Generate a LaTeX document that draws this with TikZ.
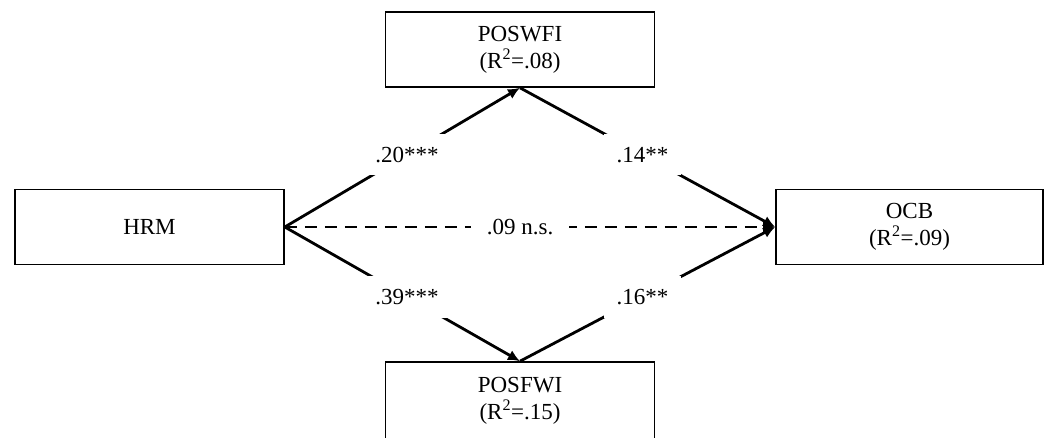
\documentclass[tikz,border=0pt]{standalone}
\usepackage{fontspec}
\setmainfont{Liberation Serif}
\usetikzlibrary{arrows.meta}

\tikzset{
  varbox/.style={draw, rectangle, line width=1.6pt, minimum width=269pt, minimum height=75pt,
                 align=center, font=\fontsize{23}{27}\selectfont},
  effect/.style={line width=2.8pt, -{Latex[length=12pt,width=11pt]}},
  coef/.style={fill=white, inner xsep=13pt, inner ysep=13pt, font=\fontsize{23}{27}\selectfont}
}

\begin{document}
\begin{tikzpicture}[x=1pt,y=1pt]
        \useasboundingbox (0,0) rectangle (1052,-437); % page size of the reference
        % the four variables
        \node[varbox] (hrm) at (149.5,-227) {HRM};
        \node[varbox] (poswfi) at (520,-49.5) {POSWFI\\(R\textsuperscript{2}=.08)};
        \node[varbox, minimum width=267pt] (ocb) at (909.5,-227) {OCB\\(R\textsuperscript{2}=.09)};
        \node[varbox, minimum height=78pt] (posfwi) at (520,-401) {POSFWI\\(R\textsuperscript{2}=.15)};
        % upper path
        \draw[effect] (hrm.east) -- node[coef, pos=0.52] {.20***} (poswfi.south);
        \draw[effect] (poswfi.south) -- node[coef, pos=0.48] {.14**} (ocb.west);
        % lower path
        \draw[effect] (hrm.east) -- node[coef, pos=0.52] {.39***} (posfwi.north);
        \draw[effect] (posfwi.north) -- node[coef, pos=0.48] {.16**} (ocb.west);
        % direct effect
        \draw[effect, dash pattern=on 12pt off 8pt] (hrm.east) -- node[coef, pos=0.48, inner xsep=16pt] {.09 n.s.} (ocb.west);
    \end{tikzpicture}
\end{document}
